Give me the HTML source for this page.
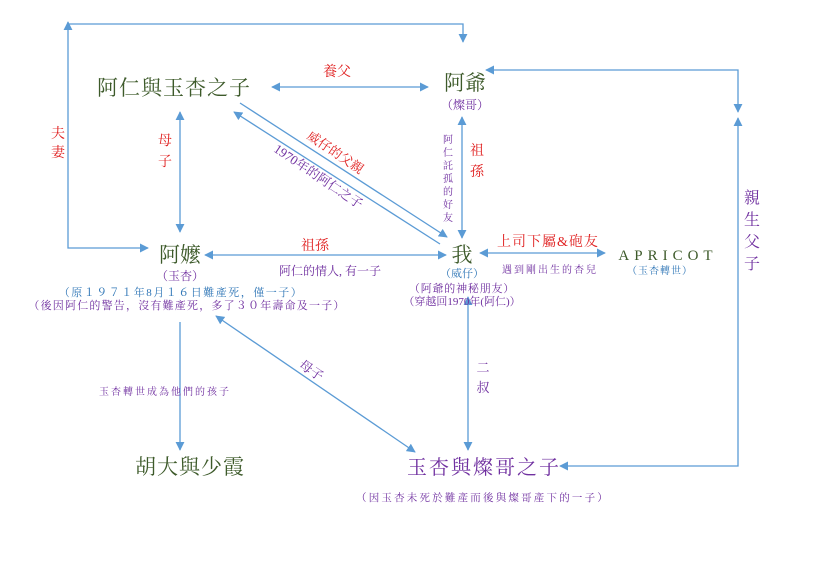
<!DOCTYPE html>
<html><head><meta charset="utf-8"><style>
body{margin:0;background:#fff}
svg{display:block}
text{font-family:"Liberation Serif","Noto Serif CJK SC","Noto Sans CJK TC",serif}
</style></head><body>
<svg width="820" height="574" viewBox="0 0 820 574" xmlns="http://www.w3.org/2000/svg">
<defs>
<marker id="a" viewBox="0 0 10 10" refX="9" refY="5" markerWidth="9" markerHeight="9" orient="auto-start-reverse" markerUnits="userSpaceOnUse"><path d="M0,0L10,5L0,10z" fill="#5b9bd5"/></marker>
</defs>
<g stroke="#5b9bd5" stroke-width="1.3" fill="none">
<path d="M68,22V248H148" marker-start="url(#a)" marker-end="url(#a)"/>
<path d="M68,24H463V42" marker-end="url(#a)"/>
<path d="M272,87H428" marker-start="url(#a)" marker-end="url(#a)"/>
<path d="M486,70H738V112" marker-start="url(#a)" marker-end="url(#a)"/>
<path d="M738,118V466H560" marker-start="url(#a)" marker-end="url(#a)"/>
<path d="M180,112V232" marker-start="url(#a)" marker-end="url(#a)"/>
<path d="M462,117V238" marker-start="url(#a)" marker-end="url(#a)"/>
<path d="M205,255H446" marker-start="url(#a)" marker-end="url(#a)"/>
<path d="M480,253H605" marker-start="url(#a)" marker-end="url(#a)"/>
<path d="M240,103L447,237" marker-end="url(#a)"/>
<path d="M234,112L440,244" marker-start="url(#a)"/>
<path d="M180,322V450" marker-end="url(#a)"/>
<path d="M216,316L415,452" marker-start="url(#a)" marker-end="url(#a)"/>
<path d="M468,297V450" marker-start="url(#a)" marker-end="url(#a)"/>
</g>
<g fill="#3d5a2a" font-size="21" text-anchor="middle">
<text x="174" y="95" letter-spacing="1">阿仁與玉杏之子</text>
<text x="465" y="90">阿爺</text>
<text x="180" y="262">阿嬤</text>
<text x="462" y="262">我</text>
<text x="190" y="474" letter-spacing="1">胡大與少霞</text>
<text x="668" y="260" font-size="15" letter-spacing="5">APRICOT</text>
</g>
<g fill="#7030a0" text-anchor="middle">
<text x="465" y="109" font-size="12">（燦哥）</text>
<text x="180" y="280" font-size="12">（玉杏）</text>
<text x="187" y="309" font-size="11" letter-spacing="1.2">（後因阿仁的警告，沒有難產死，多了３０年壽命及一子）</text>
<text x="330" y="275" font-size="12">阿仁的情人, 有一子</text>
<text x="462" y="292" font-size="11" letter-spacing="0.8">（阿爺的神秘朋友）</text>
<text x="462" y="305" font-size="11">（穿越回1970年(阿仁)）</text>
<text x="550" y="273" font-size="10" letter-spacing="2">遇到剛出生的杏兒</text>
<text x="165" y="395" font-size="10" letter-spacing="2">玉杏轉世成為他們的孩子</text>
<text x="484" y="474" font-size="20" letter-spacing="2">玉杏與燦哥之子</text>
<text x="483" y="501" font-size="10.5" letter-spacing="2.2">（因玉杏未死於難產而後與燦哥產下的一子）</text>
<text x="483" y="372" font-size="13">二</text>
<text x="483" y="392" font-size="13">叔</text>
<text font-size="16" x="752" y="203">親</text>
<text font-size="16" x="752" y="225">生</text>
<text font-size="16" x="752" y="247">父</text>
<text font-size="16" x="752" y="269">子</text>
<text font-size="10" x="448" y="143">阿</text>
<text font-size="10" x="448" y="156">仁</text>
<text font-size="10" x="448" y="169">託</text>
<text font-size="10" x="448" y="182">孤</text>
<text font-size="10" x="448" y="195">的</text>
<text font-size="10" x="448" y="208">好</text>
<text font-size="10" x="448" y="221">友</text>
<text font-size="13" transform="translate(316,180) rotate(34)">1970年的阿仁之子</text>
<text font-size="13" transform="translate(309,374) rotate(34)">母子</text>
</g>
<g fill="#2e75b6" text-anchor="middle">
<text x="181" y="296" font-size="11" letter-spacing="1.5">（原１９７１年8月１６日難產死，僅一子）</text>
<text x="462" y="277" font-size="11">（威仔）</text>
<text x="660" y="274" font-size="10" letter-spacing="1">（玉杏轉世）</text>
</g>
<g fill="#e02020" text-anchor="middle" font-size="14">
<text x="337" y="76">養父</text>
<text x="315" y="250">祖孫</text>
<text x="548" y="246" letter-spacing="1">上司下屬&amp;砲友</text>
<text x="58" y="138">夫</text><text x="58" y="157">妻</text>
<text x="165" y="145">母</text><text x="165" y="166">子</text>
<text x="477" y="155">祖</text><text x="477" y="176">孫</text>
<text font-size="13" transform="translate(333,156) rotate(34)">威仔的父親</text>
</g>
</svg>
</body></html>
